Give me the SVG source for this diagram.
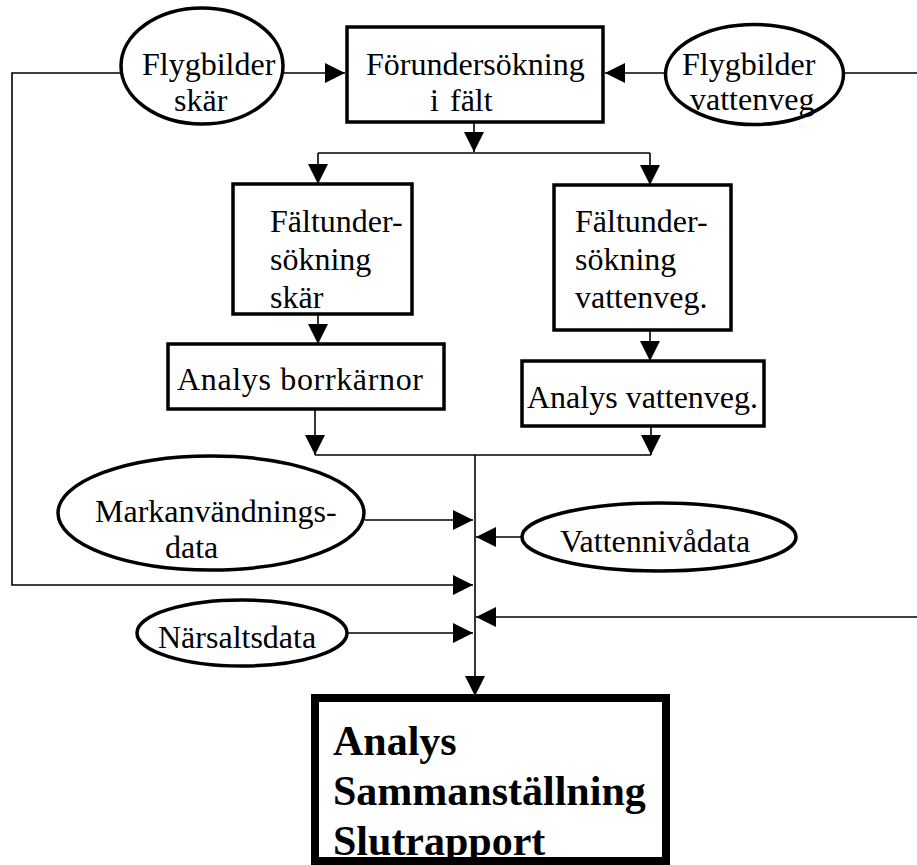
<svg xmlns="http://www.w3.org/2000/svg" width="917" height="865" viewBox="0 0 917 865">
<style>
.bg{fill:#fff}
.box{fill:#fff;stroke:#000;stroke-width:3.5}
.big{fill:#fff;stroke:#000;stroke-width:8}
.ell{fill:#fff;stroke:#000;stroke-width:3.5}
.t{font-family:"Liberation Serif","Times New Roman",serif;font-size:32px;fill:#000}
.b{font-family:"Liberation Serif","Times New Roman",serif;font-size:42px;font-weight:bold;fill:#000}
.c{fill:none;stroke:#000;stroke-width:1.6}
.a{marker-end:url(#ah)}
</style>
<defs>
<marker id="ah" markerUnits="userSpaceOnUse" markerWidth="20" markerHeight="20" viewBox="0 0 20 20" refX="20" refY="10" orient="auto">
<path d="M0,0 L20,10 L0,20 Z" fill="#000"/>
</marker>
</defs>
<rect class="bg" x="0" y="0" width="917" height="865"/>
<g id="connectors">
<path class="c a" d="M120,73 H12 V585 H473"/>
<path class="c a" d="M283,73 H345"/>
<path class="c a" d="M665,73 H605"/>
<path class="c" d="M917,73 H844"/>
<path class="c a" d="M917,617 H476"/>
<path class="c a" d="M474,122 V152"/>
<path class="c" d="M318,153 H650"/>
<path class="c a" d="M318,153 V184"/>
<path class="c a" d="M650,153 V185"/>
<path class="c a" d="M318,314 V344"/>
<path class="c a" d="M650,330 V361"/>
<path class="c a" d="M315,409 V455"/>
<path class="c a" d="M651,426 V455"/>
<path class="c" d="M315,455 H651"/>
<path class="c a" d="M475,455 V696"/>
<path class="c a" d="M365,520 H473"/>
<path class="c a" d="M522,537 H476"/>
<path class="c a" d="M348,633 H473"/>
</g>
<g id="flyg-skar">
<ellipse class="ell" cx="202" cy="66" rx="81" ry="58"/>
<text class="t" x="142" y="75">Flygbilder</text>
<text class="t" x="174" y="111">skär</text>
</g>
<g id="forundersokning">
<rect class="box" x="347" y="27" width="256" height="95"/>
<text class="t" x="366" y="75">Förundersökning</text>
<text class="t" y="111"><tspan x="430">i</tspan><tspan x="450">fält</tspan></text>
</g>
<g id="flyg-vattenveg">
<ellipse class="ell" cx="754.5" cy="74.5" rx="89" ry="50"/>
<text class="t" x="682" y="75">Flygbilder</text>
<text class="t" x="690" y="110">vattenveg</text>
</g>
<g id="falt-skar">
<rect class="box" x="233" y="184" width="179" height="130"/>
<text class="t" x="270" y="232">Fältunder-</text>
<text class="t" x="270" y="270">sökning</text>
<text class="t" x="270" y="308">skär</text>
</g>
<g id="falt-vattenveg">
<rect class="box" x="554" y="185" width="177" height="145"/>
<text class="t" x="575" y="232">Fältunder-</text>
<text class="t" x="575" y="270">sökning</text>
<text class="t" x="575" y="308">vattenveg.</text>
</g>
<g id="analys-borr">
<rect class="box" x="168" y="344" width="276" height="65"/>
<text class="t" x="177" y="390" textLength="246" lengthAdjust="spacing">Analys borrkärnor</text>
</g>
<g id="analys-vatten">
<rect class="box" x="522" y="361" width="242" height="65"/>
<text class="t" x="527" y="408">Analys vattenveg.</text>
</g>
<g id="markanv">
<ellipse class="ell" cx="211" cy="513" rx="153" ry="57"/>
<text class="t" x="95" y="522">Markanvändnings-</text>
<text class="t" x="165" y="558">data</text>
</g>
<g id="vattenniva">
<ellipse class="ell" cx="659" cy="537" rx="137" ry="34"/>
<text class="t" x="560" y="552">Vattennivådata</text>
</g>
<g id="narsalts">
<ellipse class="ell" cx="242" cy="633" rx="105" ry="33"/>
<text class="t" x="158" y="648">Närsaltsdata</text>
</g>
<g id="slutrapport">
<rect class="big" x="315" y="698" width="351" height="163"/>
<text class="b" x="333" y="755">Analys</text>
<text class="b" x="333" y="805">Sammanställning</text>
<text class="b" x="333" y="855">Slutrapport</text>
</g>
</svg>
